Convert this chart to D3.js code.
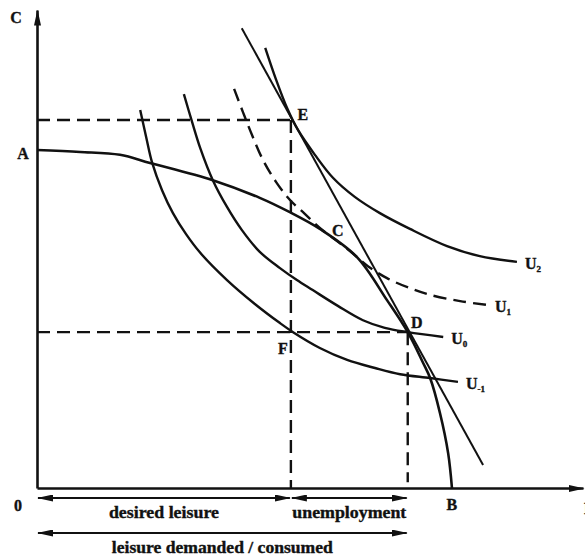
<!DOCTYPE html>
<html>
<head>
<meta charset="utf-8">
<script src="https://cdn.jsdelivr.net/npm/d3@7"></script>
<style>
  body { margin: 0; background: #fff; }
  svg { display: block; }
  text { font-family: 'Liberation Serif', 'DejaVu Serif', serif; font-weight: bold; fill: #111; stroke: #111; stroke-width: 0.35; }
</style>
</head>
<body>
<div id="chart"></div>
<script>
// curves, in chart units (x = leisure, y = consumption)
const ppf = [[0, 70.7], [7.9, 70.3], [15.2, 69.7], [20.7, 68.0], [32.2, 64.4], [40.8, 60.7],
  [46.3, 57.7], [51.8, 54.2], [58.6, 48.3], [64.1, 39.3], [67.9, 32.6], [70.7, 26.2],
  [72.0, 23.0], [73.8, 15.7], [75.3, 7.3], [76.0, 0]];
const u2 = [[41.8, 92.1], [43.8, 85.4], [45.8, 79.5], [47.8, 74.9], [50.9, 69.7], [54.2, 64.9],
  [58.2, 60.9], [62.8, 57.5], [68.3, 54.2], [75.1, 50.6], [81.1, 48.5], [87.9, 47.3]];
const u1 = [[36.1, 83.5], [37.7, 78.7], [39.4, 73.8], [41.4, 68.6], [43.8, 64.0], [46.3, 60.3],
  [49.1, 57.3], [51.8, 54.4], [54.9, 51.7], [57.7, 49.2], [60.6, 46.4], [64.1, 43.9],
  [68.3, 41.8], [72.0, 40.4], [77.5, 39.1], [82.4, 38.3]];
const u0 = [[26.9, 82.4], [28.4, 76.6], [29.9, 71.1], [32.2, 64.4], [34.8, 58.8], [37.5, 54.0],
  [40.8, 49.4], [44.5, 46.0], [47.6, 43.5], [50.5, 41.4], [55.1, 38.1], [59.7, 35.1],
  [63.7, 33.5], [67.9, 32.6], [74.4, 31.6]];
const uMinus1 = [[18.9, 79.1], [20.0, 73.4], [21.1, 68.0], [22.9, 62.3], [24.9, 57.5], [27.3, 53.1],
  [29.9, 49.2], [34.8, 43.5], [39.9, 38.5], [44.5, 34.5], [46.9, 32.6], [51.8, 29.3],
  [56.8, 26.8], [61.9, 25.1], [66.5, 23.8], [72.0, 23.0], [77.1, 22.2]];
const priceLine = [[37.5, 96.2], [81.7, 4.8]];

// named points
const pointA = [0, 70.7];
const pointE = [46.5, 77.0];
const pointC = [54.9, 51.7];
const pointD = [67.9, 32.6];
const pointF = [46.5, 32.6];
const pointB = [76.0, 0];

// brackets below the axis
const spans = [
  { from: 0, to: 46.5, label: 'desired leisure', row: 0 },
  { from: 46.5, to: 67.9, label: 'unemployment', row: 0 },
  { from: 0, to: 67.9, label: 'leisure demanded / consumed', row: 1 }
];

const width = 585, height = 559;

const x = d3.scaleLinear().domain([0, 100]).range([37, 583]);
const y = d3.scaleLinear().domain([0, 100]).range([488, 10]);

const svg = d3.select('#chart').append('svg')
  .attr('width', width)
  .attr('height', height);

const defs = svg.append('defs');
defs.append('marker')
  .attr('id', 'head')
  .attr('viewBox', '0 0 16 7')
  .attr('refX', 15)
  .attr('refY', 3.5)
  .attr('markerWidth', 16)
  .attr('markerHeight', 7)
  .attr('markerUnits', 'userSpaceOnUse')
  .attr('orient', 'auto-start-reverse')
  .append('path')
  .attr('d', 'M0,0 L16,3.5 L0,7 Z')
  .attr('fill', '#111');

// axes: bare lines with arrow heads
const xAxis = svg.append('g')
  .attr('transform', `translate(0,${y(0)})`)
  .call(d3.axisBottom(x).ticks(0).tickSizeOuter(0));
const yAxis = svg.append('g')
  .attr('transform', `translate(${x(0)},0)`)
  .call(d3.axisLeft(y).ticks(0).tickSizeOuter(0));
[xAxis, yAxis].forEach(g => {
  g.select('.domain')
    .attr('stroke', '#111')
    .attr('stroke-width', 2.6)
    .attr('marker-end', 'url(#head)');
});

const line = d3.line()
  .x(d => x(d[0]))
  .y(d => y(d[1]))
  .curve(d3.curveCatmullRom.alpha(0.5));

// dashed guides
const dash = '13,7';
const guides = [
  [[0, pointE[1]], pointE],
  [pointE, [pointE[0], 0]],
  [[0, pointD[1]], pointD],
  [pointD, [pointD[0], 1.2]]
];
svg.selectAll('.guide')
  .data(guides)
  .join('path')
  .attr('class', 'guide')
  .attr('d', d3.line().x(d => x(d[0])).y(d => y(d[1])))
  .attr('fill', 'none')
  .attr('stroke', '#111')
  .attr('stroke-width', 2.4)
  .attr('stroke-dasharray', dash);

// curves
const curves = [
  { data: ppf, w: 2.6 },
  { data: u2, w: 2.4 },
  { data: u1, w: 2.4, dashed: true },
  { data: u0, w: 2.4 },
  { data: uMinus1, w: 2.4 }
];
svg.selectAll('.curve')
  .data(curves)
  .join('path')
  .attr('class', 'curve')
  .attr('d', d => line(d.data))
  .attr('fill', 'none')
  .attr('stroke', '#111')
  .attr('stroke-width', d => d.w)
  .attr('stroke-dasharray', d => d.dashed ? dash : null);

svg.append('path')
  .attr('d', d3.line().x(d => x(d[0])).y(d => y(d[1]))(priceLine))
  .attr('fill', 'none')
  .attr('stroke', '#111')
  .attr('stroke-width', 2);

// point labels
const pointLabels = [
  { p: pointA, t: 'A', dx: -14, dy: 3 },
  { p: pointE, t: 'E', dx: 12, dy: -5 },
  { p: pointC, t: 'C', dx: 1, dy: -10 },
  { p: pointD, t: 'D', dx: 9, dy: -10 },
  { p: pointF, t: 'F', dx: -8, dy: 16 },
  { p: pointB, t: 'B', dx: 0, dy: 16 },
  { p: [0, 0], t: '0', dx: -19, dy: 17 },
  { p: [0, 100], t: 'C', dx: -21, dy: 7 },
  { p: [100, 0], t: 'L', dx: 1, dy: 20 }
];
svg.selectAll('.plabel')
  .data(pointLabels)
  .join('text')
  .attr('class', 'plabel')
  .attr('x', d => x(d.p[0]) + d.dx)
  .attr('y', d => y(d.p[1]) + d.dy)
  .attr('text-anchor', d => d.t === 'L' ? 'start' : 'middle')
  .attr('dominant-baseline', 'central')
  .style('font-size', '16px')
  .text(d => d.t);

// utility labels at curve ends
const uLabels = [
  { data: u2, sub: '2' },
  { data: u1, sub: '1' },
  { data: u0, sub: '0' },
  { data: uMinus1, sub: '-1' }
];
uLabels.forEach(d => {
  const end = d.data[d.data.length - 1];
  const t = svg.append('text')
    .attr('x', x(end[0]) + 8)
    .attr('y', y(end[1]) + 7)
    .style('font-size', '16px')
    .text('U');
  t.append('tspan')
    .attr('dy', 3)
    .style('font-size', '9px')
    .text(d.sub);
});

// double arrows with captions under the axis
const rowY = [498, 533];
const labelLen = { 'desired leisure': 110, 'unemployment': 114, 'leisure demanded / consumed': 221 };
spans.forEach(s => {
  const yy = rowY[s.row];
  svg.append('line')
    .attr('x1', x(s.from) + 1)
    .attr('x2', x(s.to) - 1)
    .attr('y1', yy)
    .attr('y2', yy)
    .attr('stroke', '#111')
    .attr('stroke-width', 2)
    .attr('marker-start', 'url(#head)')
    .attr('marker-end', 'url(#head)');
  svg.append('text')
    .attr('x', (x(s.from) + x(s.to)) / 2)
    .attr('y', yy + 20)
    .attr('text-anchor', 'middle')
    .attr('textLength', labelLen[s.label])
    .attr('lengthAdjust', 'spacingAndGlyphs')
    .style('font-size', '16px')
    .text(s.label);
});
</script>
</body>
</html>
